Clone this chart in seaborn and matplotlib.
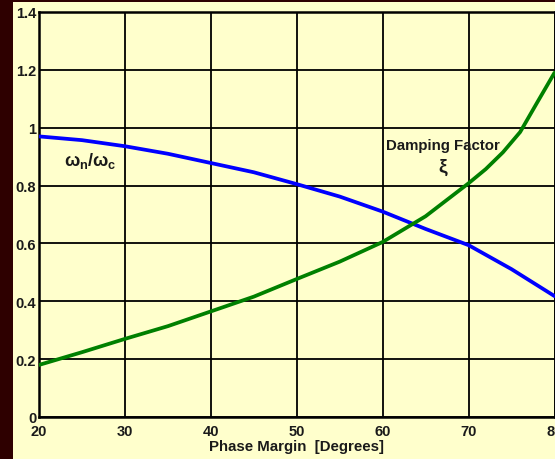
import matplotlib
matplotlib.use("Agg")
import matplotlib.pyplot as plt
import seaborn as sns
import pandas as pd
from matplotlib.patches import Rectangle

# Phase margin (degrees) and the two read-off curves
pm_ratio = [20, 25, 30, 35, 40, 45, 50, 55, 60, 65, 70, 75, 80]
wn_over_wc = [0.970, 0.957, 0.936, 0.910, 0.878, 0.846, 0.805, 0.762, 0.710, 0.650, 0.594, 0.511, 0.418]

pm_zeta = [20, 25, 30, 35, 40, 45, 50, 55, 60, 65, 70, 72, 74, 76, 78, 80]
zeta = [0.180, 0.224, 0.270, 0.314, 0.365, 0.416, 0.477, 0.537, 0.605, 0.694, 0.808, 0.857, 0.915, 0.985, 1.088, 1.190]

x_ticks = [20, 30, 40, 50, 60, 70, 80]
y_ticks = [0, 0.2, 0.4, 0.6, 0.8, 1.0, 1.2, 1.4]
y_tick_labels = ["0", "0.2", "0.4", "0.6", "0.8", "1", "1.2", "1.4"]

PAPER = "#FFFFCC"
MAROON = "#2E0000"
INK = "#1a1a1a"

sns.set_theme(style="white")
plt.rcParams["font.family"] = ["Liberation Sans", "DejaVu Sans"]
plt.rcParams["font.weight"] = "bold"
plt.rcParams["mathtext.fontset"] = "custom"
plt.rcParams["mathtext.rm"] = "Liberation Sans:bold"
plt.rcParams["mathtext.it"] = "Liberation Sans:bold"
plt.rcParams["mathtext.bf"] = "Liberation Sans:bold"

fig = plt.figure(figsize=(5.55, 4.6), dpi=100, facecolor=PAPER)
# dark frame strips along the left and top edges
fig.patches.append(Rectangle((0, 0), 13 / 555, 1, transform=fig.transFigure,
                             facecolor=MAROON, edgecolor="none", zorder=0))
fig.patches.append(Rectangle((0, 1 - 3 / 460), 1, 3 / 460, transform=fig.transFigure,
                             facecolor=MAROON, edgecolor="none", zorder=0))

ax = fig.add_axes([39 / 555, 1 - 418 / 460, (554.5 - 39) / 555, (418 - 13) / 460])
ax.set_facecolor(PAPER)

df_ratio = pd.DataFrame({"pm": pm_ratio, "val": wn_over_wc})
df_zeta = pd.DataFrame({"pm": pm_zeta, "val": zeta})
sns.lineplot(data=df_ratio, x="pm", y="val", ax=ax, color="#0000FF", linewidth=2.7, zorder=3)
sns.lineplot(data=df_zeta, x="pm", y="val", ax=ax, color="#008000", linewidth=2.7, zorder=3)

ax.set_xlim(20, 80)
ax.set_ylim(0, 1.4)
ax.set_xticks(x_ticks)
ax.set_xticklabels([str(t) for t in x_ticks], fontsize=10.5, fontweight="bold", color=INK)
ax.set_yticks(y_ticks)
ax.set_yticklabels(y_tick_labels, fontsize=10.5, fontweight="bold", color=INK)
ax.tick_params(axis="both", length=0)
ax.tick_params(axis="y", pad=2)
ax.tick_params(axis="x", pad=5)

ax.grid(True, color="black", linewidth=1.3)
ax.set_axisbelow(False)
for s in ax.spines.values():
    s.set_color("black")
    s.set_linewidth(1.8)

ax.set_xlabel("Phase Margin  [Degrees]", fontsize=10.8, fontweight="bold", color=INK, labelpad=1)
ax.set_ylabel("")

ax.text(25.9, 0.89, r"$\omega_n/\omega_c$", fontsize=13, ha="center", va="center", color=INK)
ax.text(67.0, 0.94, "Damping Factor", fontsize=10.8, fontweight="bold", ha="center", va="center", color=INK)
ax.text(67.0, 0.865, "ξ", fontsize=14, fontweight="bold", ha="center", va="center", color=INK)

fig.savefig("out.png", dpi=100, facecolor=PAPER)
